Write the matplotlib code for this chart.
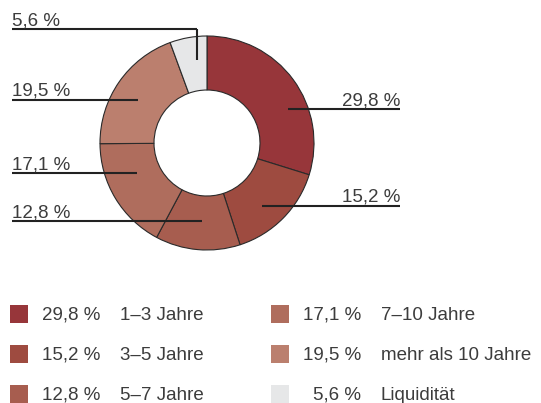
import matplotlib.pyplot as plt

# data
shares = [29.8, 15.2, 12.8, 17.1, 19.5, 5.6]
labels = ["1\u20133 Jahre", "3\u20135 Jahre", "5\u20137 Jahre", "7\u201310 Jahre",
          "mehr als 10 Jahre", "Liquidit\u00e4t"]
colors = ["#97363a", "#9e4b40", "#a75d4f", "#af6d5d", "#bb7f6e", "#e6e7e8"]

def fmt(v):
    return ("%.1f %%" % v).replace(".", ",")

H = 403
fig = plt.figure(figsize=(5.41, 4.03), dpi=100)
ax = fig.add_axes([0, 0, 1, 1])
plt.rcParams['font.family'] = ['Liberation Sans', 'DejaVu Sans']
txt = "#3c3c3c"
fs = 13.5

ax.pie(shares, colors=colors, startangle=90, counterclock=False,
       radius=107, center=(207, H - 143),
       wedgeprops=dict(width=54, edgecolor="#2a2a2a", linewidth=0.8))
ax.set_xlim(0, 541)
ax.set_ylim(0, H)
ax.axis("off")

# leader lines: (line y, x0, x1, text x, align)
lead = [
    (109, 288, 400, 400, "right"),
    (206, 262, 400, 400, "right"),
    (221, 12, 202, 12, "left"),
    (173, 12, 137, 12, "left"),
    (100, 12, 138, 12, "left"),
    (29, 12, 197, 12, "left"),
]
for v, (ly, x0, x1, tx, ha) in zip(shares, lead):
    ax.plot([x0, x1], [H - ly, H - ly], color="#222222", lw=1.5,
            solid_capstyle="butt")
    ax.text(tx, H - ly + 4, fmt(v), ha=ha, va="baseline", fontsize=fs, color=txt)
# vertical part for Liquiditaet
ax.plot([197, 197], [H - 29, H - 60], color="#222222", lw=1.5,
        solid_capstyle="butt")

# legend
rows = [314, 354, 394]
cols = [(10, 100, 120), (271, 361, 381)]
for i, (v, lab, c) in enumerate(zip(shares, labels, colors)):
    sx, px, lx = cols[i // 3]
    y = H - rows[i % 3]
    ax.add_patch(plt.Rectangle((sx, y - 9), 18, 18, color=c, lw=0))
    ax.text(px, y - 6, fmt(v), ha="right", va="baseline", fontsize=fs, color=txt)
    ax.text(lx, y - 6, lab, ha="left", va="baseline", fontsize=fs, color=txt)

fig.savefig("out.png", dpi=100)
